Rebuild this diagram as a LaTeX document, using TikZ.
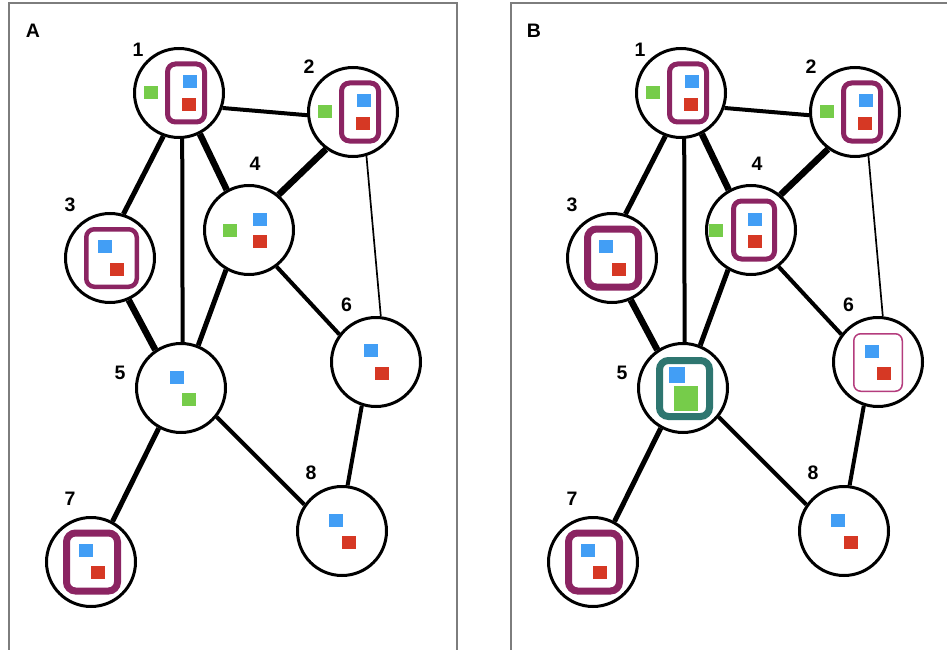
\documentclass[tikz,border=0pt]{standalone}
\usepackage{fontspec}
\newfontfamily\labelfont{Liberation Sans}
\definecolor{cblue}{RGB}{66,158,245}
\definecolor{cred}{RGB}{214,56,36}
\definecolor{cgreen}{RGB}{118,204,74}
\definecolor{cplum}{RGB}{139,36,98}
\definecolor{cteal}{RGB}{46,118,112}
\definecolor{cpink}{RGB}{180,60,125}
\definecolor{cframe}{RGB}{125,125,125}

\tikzset{
  vtx/.style={circle, draw=black, line width=3pt, fill=white, minimum size=89pt, inner sep=0pt},
  num/.style={font=\labelfont\bfseries\fontsize{19.5}{20}\selectfont, inner sep=0pt},
  panelframe/.style={draw=cframe, line width=1.5pt},
  ethin/.style={line width=1.7pt},
  emid/.style={line width=4pt},
  ethick/.style={line width=5pt},
  eheavy/.style={line width=6.5pt},
}

% filled square: colour, centre x, centre y, width, height
\newcommand\sqr[5]{\fill[#1] ({#2-#4/2},{#3-#5/2}) rectangle ++(#4,#5);}
% rounded ring: colour, line width, radius, centre x, centre y, outer width, outer height
\newcommand\ringbox[7]{\draw[#1, line width=#2pt, rounded corners=#3pt]
  ({#4-(#6-#2)/2},{#5-(#7-#2)/2}) rectangle ({#4+(#6-#2)/2},{#5+(#7-#2)/2});}

% the eight vertices and their links; #1 = name prefix, #2 = horizontal offset
\newcommand\graphcore[2]{%
  \begin{scope}[xshift=#2pt]
    \node[vtx] (#1-1) at (179,93)  {};
    \node[vtx] (#1-2) at (353,112) {};
    \node[vtx] (#1-3) at (110,258) {};
    \node[vtx] (#1-4) at (249,230) {};
    \node[vtx] (#1-5) at (181,388) {};
    \node[vtx] (#1-6) at (376,362) {};
    \node[vtx] (#1-7) at (91,562)  {};
    \node[vtx] (#1-8) at (342,531) {};
    \draw[emid]   (#1-1.-19)  -- (#1-2.184);
    \draw[ethick] (#1-1.-110) -- (#1-3.73);
    \draw[emid]   (#1-1.-86)  -- (#1-5.88);
    \draw[eheavy] (#1-1.-63)  -- (#1-4.119);
    \draw[eheavy] (#1-2.-126) -- (#1-4.50);
    \draw[ethin]  (#1-2.-73)  -- (#1-6.84);
    \draw[eheavy] (#1-3.-66)  -- (#1-5.124);
    \draw[ethick] (#1-4.-120) -- (#1-5.68);
    \draw[emid]   (#1-4.-53)  -- (#1-6.143);
    \draw[ethick] (#1-5.-119) -- (#1-7.62);
    \draw[emid]   (#1-5.-39)  -- (#1-8.145);
    \draw[emid]   (#1-6.-108) -- (#1-8.83);
    \node[num] (#1-l1) at (138,50)    {1};
    \node[num] (#1-l2) at (309,67)    {2};
    \node[num] (#1-l3) at (70,204.5)  {3};
    \node[num] (#1-l4) at (255,164)   {4};
    \node[num] (#1-l5) at (120,372.5) {5};
    \node[num] (#1-l6) at (346.5,304.5) {6};
    \node[num] (#1-l7) at (70,499)    {7};
    \node[num] (#1-l8) at (311,473)   {8};
  \end{scope}}

% contents of a vertex drawn in its own frame
\newcommand\inside[2]{\begin{scope}[shift={(#1.center)}]#2\end{scope}}

% tall ring with the blue/red pair and a green square outside
\newcommand\tallset{%
  \sqr{cgreen}{-28}{0}{14}{13}
  \ringbox{cplum}{5}{8}{7}{0}{42}{63}
  \sqr{cblue}{11}{-11}{14}{13}
  \sqr{cred}{10}{11.5}{14}{13}}
% diagonal blue/red pair
\newcommand\pairset[4]{\sqr{cblue}{#1}{#2}{14}{13}\sqr{cred}{#3}{#4}{14}{13}}

\begin{document}
\begin{tikzpicture}[x=1pt, y=-1pt]
  \clip (0,0) rectangle (947,650);
  \fill[white] (0,0) rectangle (947,650);

  % panel frames
  \draw[panelframe] (9,3) rectangle (457,670);
  \draw[panelframe] (511,3) rectangle (970,670);
  \node[num] (tagA) at (33,31)   {A};
  \node[num] (tagB) at (534,30.5) {B};

  % ---------- panel A ----------
  \graphcore{a}{0}
  \inside{a-1}{\tallset}
  \inside{a-2}{\tallset}
  \inside{a-3}{\ringbox{cplum}{4.5}{8}{1.5}{0}{55}{62}\pairset{-5.5}{-11.5}{6.5}{11.5}}
  \inside{a-4}{\sqr{cgreen}{-19.5}{0}{14}{13}\pairset{11}{-10.5}{11}{11}}
  \inside{a-5}{\sqr{cblue}{-4}{-10.5}{14}{13}\sqr{cgreen}{8}{11.5}{14}{13}}
  \inside{a-6}{\pairset{-5.5}{-11.5}{5.5}{11}}
  \inside{a-7}{\ringbox{cplum}{7}{9}{1}{0}{58}{65}\pairset{-5.5}{-11.5}{6.5}{10.5}}
  \inside{a-8}{\pairset{-6}{-11}{6.5}{11.5}}

  % ---------- panel B ----------
  \graphcore{b}{502}
  \inside{b-1}{\tallset}
  \inside{b-2}{\tallset}
  \inside{b-3}{\ringbox{cplum}{7}{9}{1}{0}{58}{65}\pairset{-6}{-11.5}{6.5}{11.5}}
  \inside{b-4}{\sqr{cgreen}{-35}{0}{14}{13}
               \ringbox{cplum}{5}{8}{3}{0}{46}{63}
               \pairset{3.5}{-10.5}{3.5}{11}}
  \inside{b-5}{\ringbox{cteal}{7}{9}{1.5}{0.5}{57}{63}
               \sqr{cblue}{-6}{-13}{16}{16}
               \sqr{cgreen}{3}{10.5}{24}{25}}
  \inside{b-6}{\ringbox{cpink}{1.5}{7}{0}{0.5}{50}{59}\pairset{-6.5}{-10.5}{5.5}{11}}
  \inside{b-7}{\ringbox{cplum}{7}{9}{1}{0}{58}{65}\pairset{-5.5}{-11.5}{6.5}{10.5}}
  \inside{b-8}{\pairset{-6}{-11}{6.5}{11.5}}
\end{tikzpicture}
\end{document}
